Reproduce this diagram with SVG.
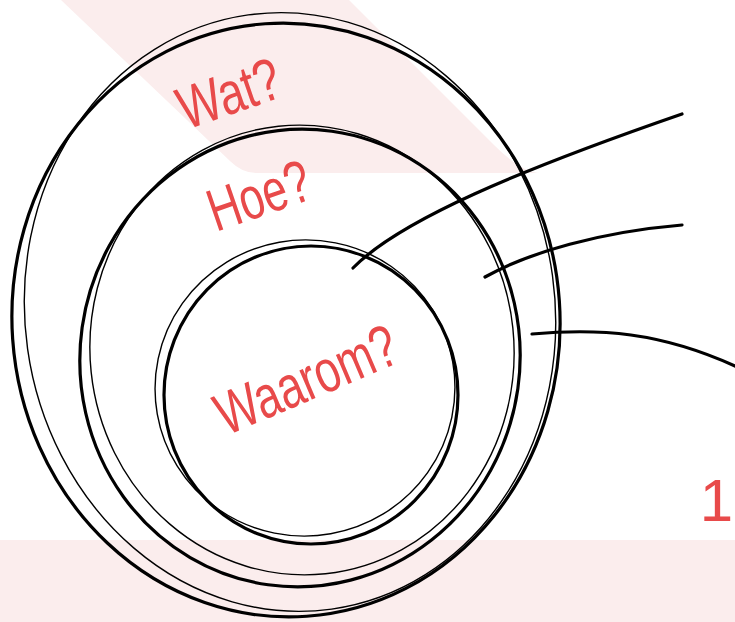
<svg xmlns="http://www.w3.org/2000/svg" width="735" height="622" viewBox="0 0 735 622">
<style>
.bg{fill:#fbeded;stroke:none}
.thick{fill:none;stroke:#000;stroke-width:3.2;stroke-linecap:round}
.thin{fill:none;stroke:#000;stroke-width:1.4;stroke-linecap:round}
.lbl{fill:#e84a4a;font-family:"Liberation Sans","DejaVu Sans",sans-serif;font-size:60px}
</style>
<rect width="735" height="622" fill="#fff"/>
<path class="bg" d="M61,0 H349 L494,145 Q522,173 540,173 H256 Q242,173 230,161 Z"/>
<rect class="bg" x="0" y="540" width="735" height="82"/>
<g id="outer">
<ellipse class="thick" cx="286" cy="320" rx="274" ry="297" transform="rotate(-4 286 320)"/>
<ellipse class="thin" cx="290" cy="312" rx="265" ry="300" transform="rotate(-8 290 312)"/>
</g>
<g id="middle">
<ellipse class="thick" cx="300" cy="358" rx="220" ry="229" transform="rotate(8 300 358)"/>
<ellipse class="thin" cx="302" cy="350" rx="212" ry="225" transform="rotate(-6 302 350)"/>
</g>
<g id="inner">
<ellipse class="thick" cx="311" cy="395" rx="147" ry="149"/>
<ellipse class="thin" cx="305" cy="388" rx="150" ry="148" transform="rotate(-10 305 388)"/>
</g>
<g id="connectors">
<path class="thick" d="M353,268 C400,220 520,170 682,114"/>
<path class="thick" d="M485,277 C530,252 600,232 682,225"/>
<path class="thick" d="M532,334 C600,328 660,332 735,366"/>
</g>
<g id="labels">
<text class="lbl" transform="translate(186,130) rotate(-19)" textLength="105" lengthAdjust="spacingAndGlyphs">Wat?</text>
<text class="lbl" transform="translate(216,232) rotate(-19)" textLength="105" lengthAdjust="spacingAndGlyphs">Hoe?</text>
<text class="lbl" transform="translate(226,436) rotate(-23)" textLength="192" lengthAdjust="spacingAndGlyphs">Waarom?</text>
<text class="lbl" x="733" y="521" font-size="40" text-anchor="end">1</text>
</g>
</svg>
